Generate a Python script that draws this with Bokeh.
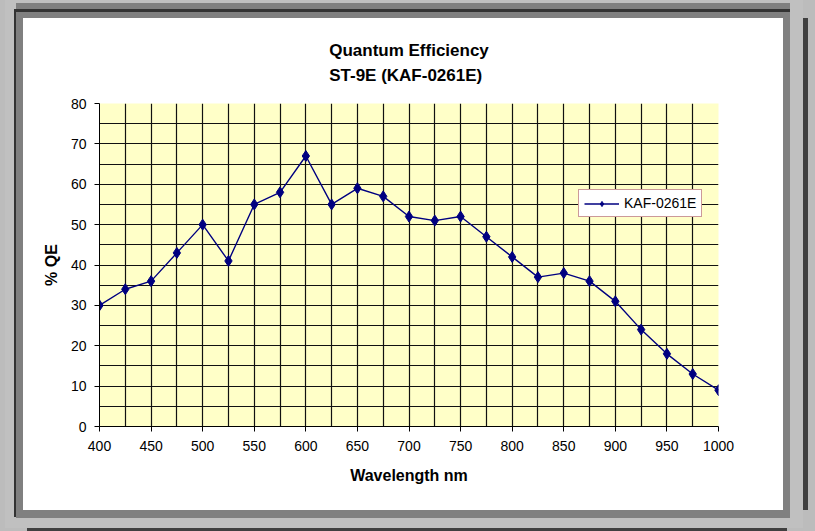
from bokeh.plotting import figure
from bokeh.models import FixedTicker, Range1d
from bokeh.embed import file_html
from bokeh.resources import INLINE

# ---- data ----
wavelength = [400, 425, 450, 475, 500, 525, 550, 575, 600, 625, 650, 675, 700,
              725, 750, 775, 800, 825, 850, 875, 900, 925, 950, 975, 1000]
qe = [30, 34, 36, 43, 50, 41, 55, 58, 67, 55, 59, 57, 52,
      51, 52, 47, 42, 37, 38, 36, 31, 24, 18, 13, 9]
series_name = "KAF-0261E"
x_ticks = [400, 450, 500, 550, 600, 650, 700, 750, 800, 850, 900, 950, 1000]
y_ticks = [0, 10, 20, 30, 40, 50, 60, 70, 80]
x_grid = [425, 450, 475, 500, 525, 550, 575, 600, 625, 650, 675, 700, 725, 750,
          775, 800, 825, 850, 875, 900, 925, 950, 975]
y_grid = [5, 10, 15, 20, 25, 30, 35, 40, 45, 50, 55, 60, 65, 70, 75]

FONT = "Liberation Sans"

p = figure(width=760, height=492, output_backend="svg", toolbar_location=None,
           x_range=Range1d(400, 1000), y_range=Range1d(0, 80),
           min_border_left=76, min_border_right=65,
           min_border_top=85, min_border_bottom=84,
           background_fill_color="#ffffc8", border_fill_color="white",
           outline_line_color=None)

# bevelled grey frame around the white chart panel (CSS box-shadows)
p.margin = (18, 0, 0, 23)
p.styles = {
    "box-shadow": ", ".join([
        "0px 1px 0 7px #808080",       # inner grey band
        "-1px -1px 0 8px #333333",     # dark line (left / top)
        "0px -8px 0 7px #808080",      # top grey band
        "1px -1px 0 19px #c0c0c0",     # light grey band
        "25px 0px 0 0px #404040",      # right dark edge
        "4px 21px 0 0px #404040",      # bottom dark edge
        "4.5px 9.5px 0 27.5px #bcbcbc",  # outer textured grey
    ])
}

# title
p.title.text = "Quantum Efficiency\nST-9E (KAF-0261E)"
p.title.align = "center"
p.title.text_font = FONT
p.title.text_font_size = "17px"
p.title.text_font_style = "bold"
p.title.text_color = "black"
p.title.text_line_height = 1.35
p.title.standoff = 36

# axes
for ax in (p.xaxis[0], p.yaxis[0]):
    ax.axis_line_color = "black"
    ax.axis_line_width = 1
    ax.major_tick_line_color = "black"
    ax.major_tick_in = 0
    ax.major_tick_out = 5
    ax.minor_tick_line_color = None
    ax.major_label_text_font = FONT
    ax.major_label_text_font_size = "14px"
    ax.major_label_text_color = "black"
    ax.axis_label_text_font = FONT
    ax.axis_label_text_font_size = "16px"
    ax.axis_label_text_font_style = "bold"
    ax.axis_label_text_color = "black"

p.xaxis.ticker = FixedTicker(ticks=x_ticks)
p.yaxis.ticker = FixedTicker(ticks=y_ticks)
p.xaxis.axis_label = "Wavelength nm"
p.yaxis.axis_label = "% QE"
p.xaxis.major_label_standoff = 9
p.yaxis.major_label_standoff = 8
p.xaxis.axis_label_standoff = 13
p.yaxis.axis_label_standoff = 8

# grids
p.xgrid.ticker = FixedTicker(ticks=x_grid)
p.ygrid.ticker = FixedTicker(ticks=y_grid)
for g in (p.xgrid[0], p.ygrid[0]):
    g.grid_line_color = "#111111"
    g.grid_line_width = 1.2

# series
navy = "#000080"
p.line(wavelength, qe, line_color=navy, line_width=1.4, legend_label=series_name)
p.scatter(wavelength, qe, marker="diamond", size=11, fill_color=navy,
          line_color=navy, legend_label=series_name)

lg = p.legend[0]
lg.location = (479, 209)
lg.margin = 0
lg.padding = 5
lg.spacing = 0
lg.glyph_width = 35
lg.glyph_height = 13
lg.label_height = 13
lg.label_standoff = 5
lg.label_text_font = FONT
lg.label_text_font_size = "14px"
lg.label_text_color = "black"
lg.border_line_color = "#993333"
lg.border_line_width = 1.2
lg.background_fill_color = "white"
lg.background_fill_alpha = 1

open("out.html", "w").write(file_html(p, INLINE))
